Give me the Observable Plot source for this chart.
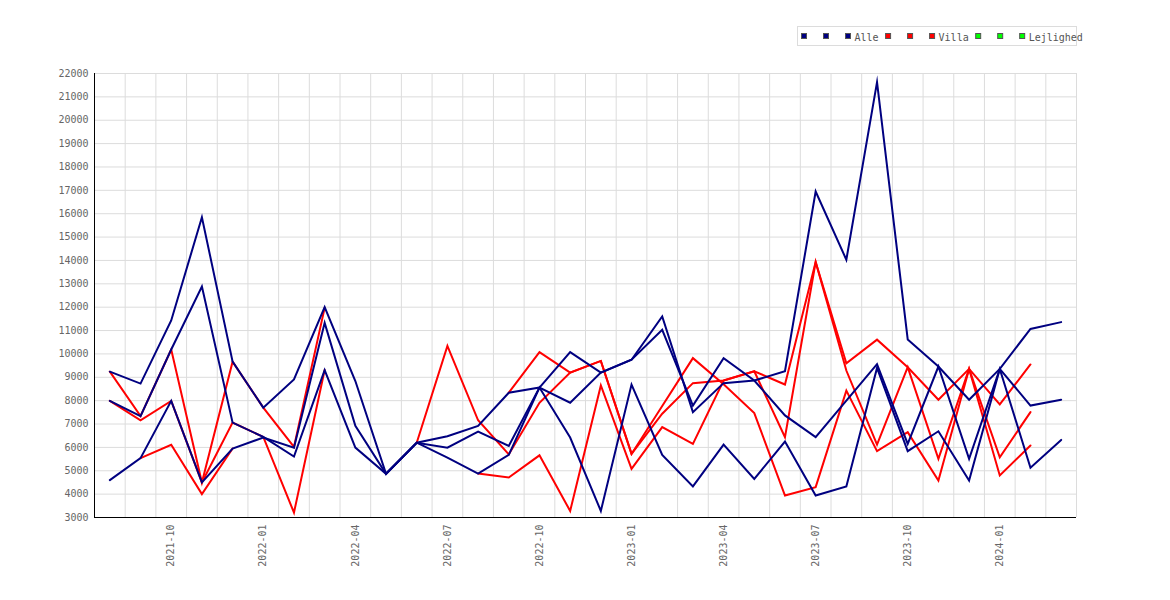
<!DOCTYPE html>
<html>
<head>
<meta charset="utf-8">
<script src="https://cdn.jsdelivr.net/npm/d3@7"></script>
<script src="https://cdn.jsdelivr.net/npm/@observablehq/plot@0.6"></script>
<style>
  html, body { margin: 0; padding: 0; background: #fff; }
  #wrap { position: relative; width: 1170px; height: 600px; }
  #chart { position: absolute; left: 0; top: 0; }
  #legend { position: absolute; left: 0; top: 0; pointer-events: none; }
</style>
</head>
<body>
<div id="wrap"><div id="chart"></div><svg id="legend" width="1170" height="60"></svg></div>
<script>
// ---- data ----
const months = ["2021-08","2021-09","2021-10","2021-11","2021-12",
  "2022-01","2022-02","2022-03","2022-04","2022-05","2022-06","2022-07","2022-08","2022-09","2022-10","2022-11","2022-12",
  "2023-01","2023-02","2023-03","2023-04","2023-05","2023-06","2023-07","2023-08","2023-09","2023-10","2023-11","2023-12",
  "2024-01","2024-02","2024-03"];
const tickLabels = ["2021-10","2022-01","2022-04","2022-07","2022-10","2023-01","2023-04","2023-07","2023-10","2024-01"];
const yTicks = [3000,4000,5000,6000,7000,8000,9000,10000,11000,12000,13000,14000,15000,16000,17000,18000,19000,20000,21000,22000];

const alle1 = [9240,8730,11430,15850,9670,7700,8910,12000,8840,4870,6200,6480,6920,8340,8560,10080,9200,9750,11600,7510,8750,8860,9260,16950,14030,21630,10620,9460,8040,9360,7790,8040];
const alle2 = [7990,7340,10190,12880,7060,6450,5610,9310,5990,4870,6200,5990,6680,6060,8560,7910,9200,9750,11030,7790,9820,8860,7370,6440,8000,9560,6150,9460,5510,9360,5130,6320];
const alle3 = [4600,5540,7990,4500,5950,6420,5990,11330,6920,4870,6200,5560,4880,5680,8560,6420,3280,8690,5680,4330,6120,4650,6250,3940,4330,9400,5840,6690,4580,9360,11070,11360];

const villa1 = [9240,7340,10190,4500,9670,7700,6020,11970,null,null,6200,10340,7160,5700,7910,9200,9700,5720,7770,9820,8700,7470,3940,4300,8430,5840,6650,4580,9360,4800,6080,null];
const villa2 = [7990,7160,7990,4500,7060,6450,3210,9310,null,null,null,null,null,8340,10080,9200,9700,5720,7440,8750,8860,9260,8690,13930,9600,10610,9430,8040,9360,7840,9550,null];
const villa3 = [null,5540,6110,4000,5950,null,null,null,null,null,null,null,4880,4710,5660,3280,8650,5080,6870,6150,8860,9260,6440,13930,9290,6120,9430,5510,9360,5580,7510,null];

const lejlighed1 = [];
const lejlighed2 = [];
const lejlighed3 = [];

const groups = ["Alle", "Villa", "Lejlighed"];
const colors = {Alle: "#000080", Villa: "#ff0000", Lejlighed: "#00ff00"};
const series = [
  {key: "Villa 1", group: "Villa", values: villa1},
  {key: "Villa 2", group: "Villa", values: villa2},
  {key: "Villa 3", group: "Villa", values: villa3},
  {key: "Lejlighed 1", group: "Lejlighed", values: lejlighed1},
  {key: "Lejlighed 2", group: "Lejlighed", values: lejlighed2},
  {key: "Lejlighed 3", group: "Lejlighed", values: lejlighed3},
  {key: "Alle 1", group: "Alle", values: alle1},
  {key: "Alle 2", group: "Alle", values: alle2},
  {key: "Alle 3", group: "Alle", values: alle3}
];

// ---- table ----
const rows = series.flatMap(s => months.map((m, i) => ({
  i, month: m, key: s.key, group: s.group,
  v: (s.values[i] === undefined ? null : s.values[i])
})));
const xDomain = [-0.5, months.length - 0.5];
const yDomain = [yTicks[0], yTicks[yTicks.length - 1]];
const xTicks = tickLabels.map(l => months.indexOf(l));
const gridX = months.map((m, i) => i + 0.5);

// draw order: Lejlighed, Villa, then Alle on top
const lineMarks = groups.slice().reverse().map(g =>
  Plot.line(rows.filter(r => r.group === g), {
    x: "i", y: "v", z: "key", stroke: colors[g], strokeWidth: 2,
    strokeLinejoin: "miter", strokeMiterlimit: 10
  })
);

const chart = Plot.plot({
  width: 1170,
  height: 600,
  marginLeft: 94,
  marginRight: 94,
  marginTop: 73,
  marginBottom: 83,
  style: {fontFamily: "'DejaVu Sans Mono', monospace", fontSize: "10px", color: "#666", background: "#fff"},
  x: {type: "linear", domain: xDomain},
  y: {type: "linear", domain: yDomain},
  marks: [
    Plot.ruleY(yTicks, {stroke: "#dcdcdc", strokeWidth: 1}),
    Plot.ruleX(gridX, {stroke: "#dcdcdc", strokeWidth: 1}),
    ...lineMarks,
    Plot.ruleX([xDomain[0]], {stroke: "#000", strokeWidth: 1}),
    Plot.ruleY([yDomain[0]], {stroke: "#000", strokeWidth: 1}),
    Plot.axisY(yTicks, {tickSize: 0, tickPadding: 6, label: null, tickFormat: d => String(d)}),
    Plot.axisX(xTicks, {tickFormat: i => months[i], tickRotate: -90, tickSize: 0, tickPadding: 7, label: null})
  ]
});
document.getElementById("chart").appendChild(chart);

// ---- legend ----
const lg = d3.select("#legend");
const charW = 6.02;
lg.append("rect").attr("x", 797.5).attr("y", 26.5).attr("width", 279).attr("height", 19)
  .attr("fill", "#fff").attr("stroke", "#dcdcdc");
let lx = 801;
groups.forEach(g => {
  for (let k = 0; k < 3; k++) {
    lg.append("rect").attr("x", lx + 22 * k + 0.5).attr("y", 33.5).attr("width", 5).attr("height", 5)
      .attr("fill", colors[g]).attr("stroke", "#555").attr("stroke-width", 1);
  }
  lg.append("text").attr("x", lx + 53.5).attr("y", 40.5)
    .attr("font-family", "'DejaVu Sans Mono', monospace").attr("font-size", 10).attr("fill", "#555")
    .text(g);
  lx += 53.5 + g.length * charW + 6.5;
});
</script>
</body>
</html>
